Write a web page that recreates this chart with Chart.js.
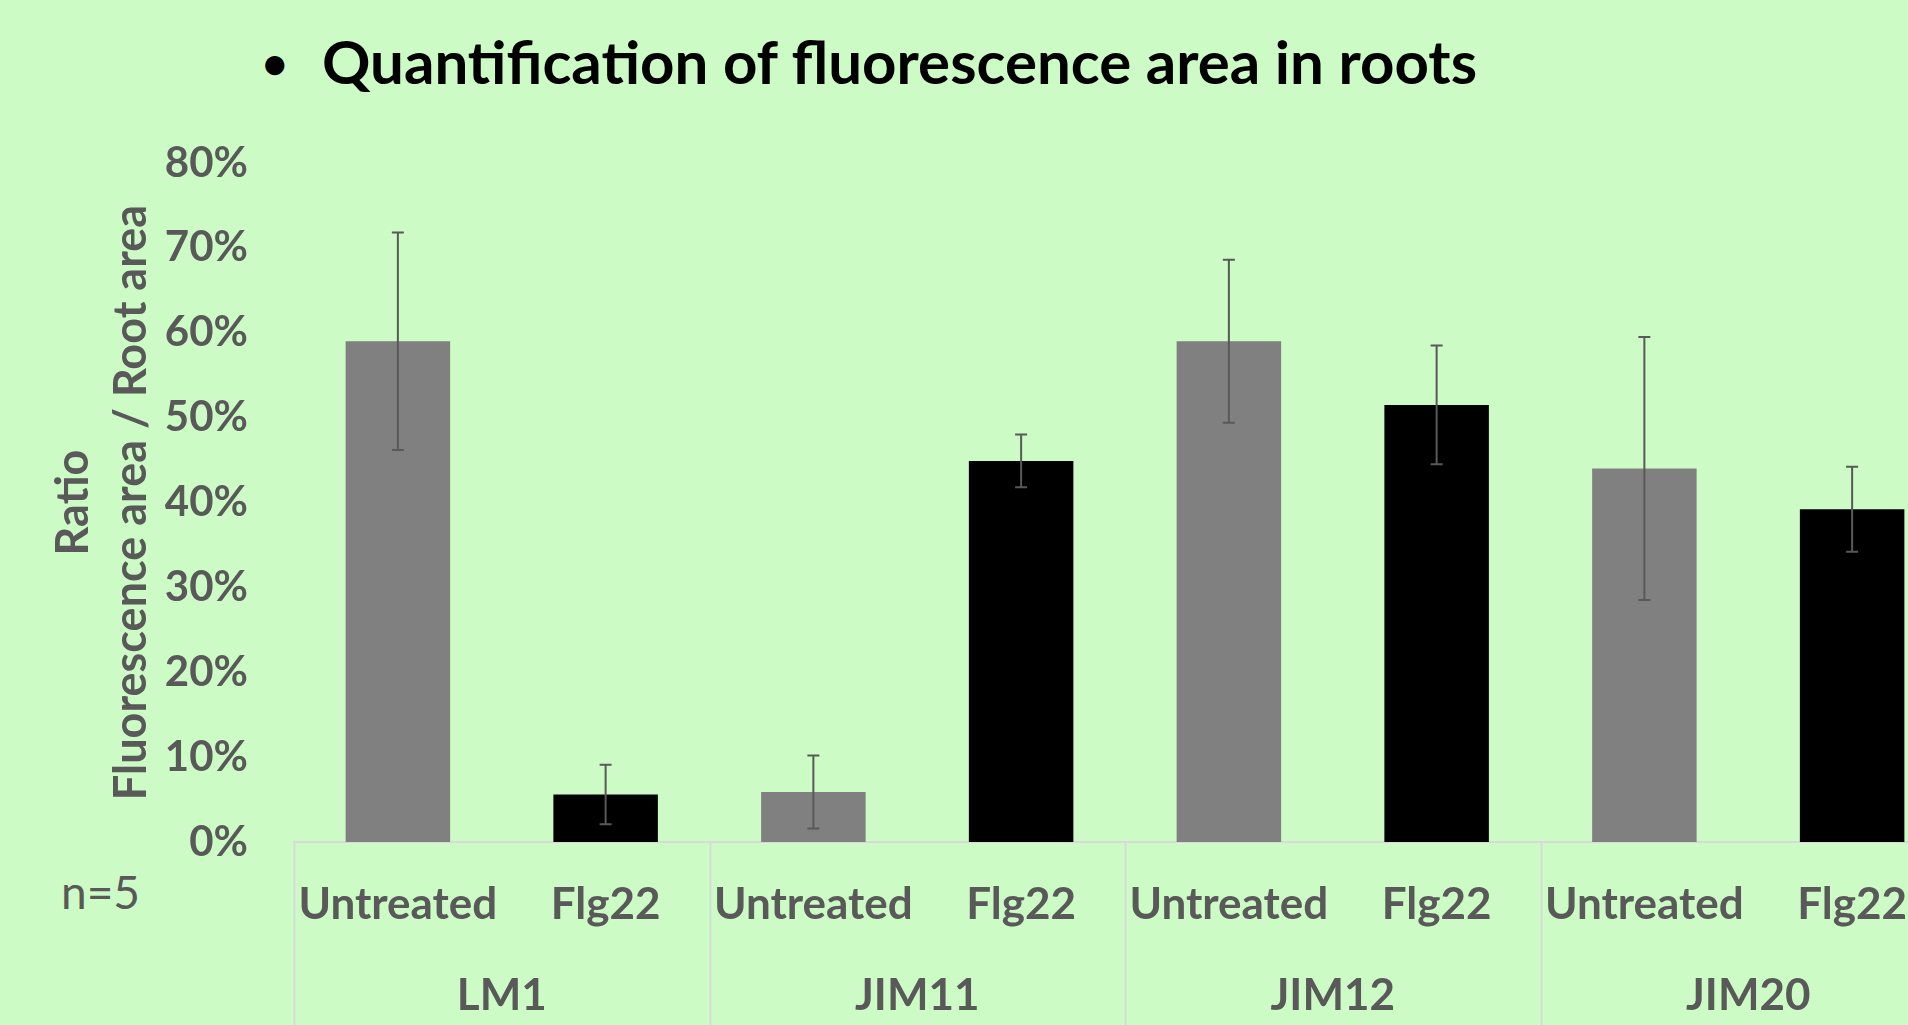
<!DOCTYPE html>
<html>
<head>
<meta charset="utf-8">
<title>Quantification of fluorescence area in roots</title>
<script src="https://cdn.jsdelivr.net/npm/chart.js@4.4.1/dist/chart.umd.min.js"></script>
<style>
    html, body {
        margin: 0;
        padding: 0;
        width: 1908px;
        height: 1025px;
        overflow: hidden;
        background: #ccfbc5;
    }
    #chartCanvas {
        position: absolute;
        left: 0;
        top: 0;
    }
    .heading {
        position: absolute;
        font-family: Lato, sans-serif;
        font-weight: 700;
        color: #000;
        white-space: nowrap;
    }
    #bullet {
        left: 262px;
        top: 34px;
        font-size: 44px;
        line-height: 56px;
    }
    #heading {
        left: 322px;
        top: 25px;
        font-size: 60px;
        line-height: 72px;
    }
    #sampleSize {
        position: absolute;
        left: 61px;
        top: 864px;
        font-family: Lato, sans-serif;
        font-size: 46px;
        line-height: 56px;
        color: #595959;
    }
</style>
</head>
<body>
<div class="heading" id="bullet">•</div>
<div class="heading" id="heading">Quantification of fluorescence area in roots</div>
<div id="sampleSize">n=5</div>
<canvas id="chartCanvas" width="1956" height="1025"></canvas>
<script>
const groups = ['LM1', 'JIM11', 'JIM12', 'JIM20'];
const treatments = ['Untreated', 'Flg22'];

// mean ratio (%) per antibody
const untreated = [59.0, 5.9, 59.0, 44.0];
const flg22 = [5.6, 44.9, 51.5, 39.2];

// error bar half-lengths (%)
const untreatedErr = [12.8, 4.3, 9.6, 15.5];
const flg22Err = [3.5, 3.1, 7.0, 5.0];

const yTicks = [0, 10, 20, 30, 40, 50, 60, 70, 80];

const textColor = '#595959';
const lineColor = '#d9d9d9';

// one category per bar: Untreated, Flg22, Untreated, Flg22 ...
const labels = groups.flatMap(() => treatments);

function spread(values, slot) {
    const out = [];
    values.forEach(v => {
        if (slot === 0) {
            out.push(v, null);
        } else {
            out.push(null, v);
        }
    });
    return out;
}

const errorBars = {
    id: 'errorBars',
    afterDatasetsDraw(chart) {
        const ctx = chart.ctx;
        const yScale = chart.scales.y;
        ctx.save();
        ctx.strokeStyle = textColor;
        ctx.lineWidth = 2;
        chart.data.datasets.forEach((ds, di) => {
            const meta = chart.getDatasetMeta(di);
            meta.data.forEach((bar, i) => {
                const v = ds.data[i];
                if (v === null) return;
                const err = ds.errors[i];
                const x = bar.x;
                const top = yScale.getPixelForValue(v + err);
                const bottom = yScale.getPixelForValue(v - err);
                ctx.beginPath();
                ctx.moveTo(x, top);
                ctx.lineTo(x, bottom);
                ctx.moveTo(x - 6, top);
                ctx.lineTo(x + 6, top);
                ctx.moveTo(x - 6, bottom);
                ctx.lineTo(x + 6, bottom);
                ctx.stroke();
            });
        });
        ctx.restore();
    }
};

// vertical separators between antibody groups below the axis
const groupDividers = {
    id: 'groupDividers',
    afterDraw(chart) {
        const x2 = chart.scales.x2;
        const ctx = chart.ctx;
        const step = x2.width / groups.length;
        ctx.save();
        ctx.strokeStyle = lineColor;
        ctx.lineWidth = 2;
        for (let g = 0; g <= groups.length; g++) {
            const px = Math.round(x2.left + step * g) + 0.5;
            ctx.beginPath();
            ctx.moveTo(px, chart.scales.x.top);
            ctx.lineTo(px, chart.height);
            ctx.stroke();
        }
        ctx.restore();
    }
};

const labelFont = { family: 'Lato', weight: 'bold', size: 44 };

new Chart(document.getElementById('chartCanvas'), {
    type: 'bar',
    data: {
        labels: labels,
        datasets: [
            {
                label: treatments[0],
                data: spread(untreated, 0),
                errors: spread(untreatedErr, 0),
                backgroundColor: '#808080'
            },
            {
                label: treatments[1],
                data: spread(flg22, 1),
                errors: spread(flg22Err, 1),
                backgroundColor: '#000000'
            }
        ]
    },
    options: {
        responsive: false,
        animation: false,
        layout: {
            padding: { top: 163, right: 0, bottom: 0, left: 0 }
        },
        datasets: {
            bar: {
                grouped: false,
                categoryPercentage: 1,
                barPercentage: 0.503
            }
        },
        plugins: {
            legend: { display: false },
            tooltip: { enabled: false }
        },
        scales: {
            x: {
                position: 'bottom',
                weight: 0,
                grid: { display: false, drawTicks: false },
                border: { display: true, color: lineColor, width: 2 },
                ticks: {
                    color: textColor,
                    font: labelFont,
                    padding: 36,
                    maxRotation: 0,
                    autoSkip: false
                },
                afterFit(scale) { scale.height = 100; }
            },
            x2: {
                type: 'category',
                position: 'bottom',
                weight: 1,
                labels: groups,
                offset: true,
                grid: { display: false, drawTicks: false },
                border: { display: false },
                ticks: {
                    color: textColor,
                    font: labelFont,
                    padding: 27,
                    maxRotation: 0,
                    autoSkip: false
                },
                afterFit(scale) { scale.height = 83; }
            },
            y: {
                min: yTicks[0],
                max: yTicks[yTicks.length - 1],
                afterBuildTicks(scale) {
                    scale.ticks = yTicks.map(v => ({ value: v }));
                },
                grid: { display: false, drawTicks: false },
                border: { display: false },
                ticks: {
                    color: textColor,
                    font: { family: 'Lato', weight: 'bold', size: 42 },
                    padding: 46,
                    callback: v => v + '%'
                },
                title: {
                    display: true,
                    text: ['Ratio', 'Fluorescence area / Root area'],
                    color: textColor,
                    font: { family: 'Lato', weight: 'bold', size: 45, lineHeight: 1.3 },
                    padding: { top: 44, bottom: 0 }
                },
                afterFit(scale) { scale.width = 294; }
            }
        }
    },
    plugins: [errorBars, groupDividers]
});
</script>
</body>
</html>
